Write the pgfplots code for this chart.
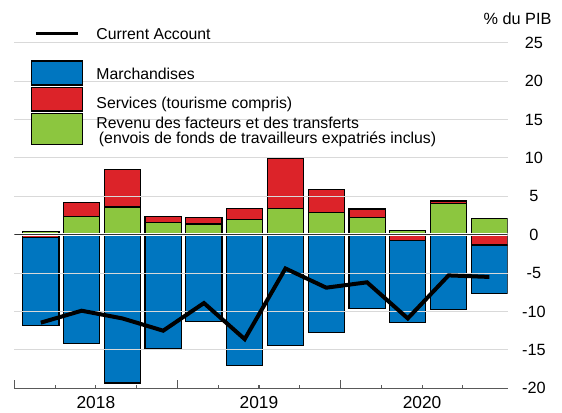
\documentclass[border=0pt]{standalone}
\usepackage{fontspec}
\setmainfont{Liberation Sans}
\usepackage{pgfplots}
\pgfplotsset{compat=1.18}
\definecolor{cablue}{HTML}{0076C0}
\definecolor{cared}{HTML}{DC2329}
\definecolor{cagreen}{HTML}{8CC63F}
\definecolor{gridgray}{HTML}{D9D9D9}
\newcommand\tickfont{\fontsize{12.2}{14}\selectfont}
\newcommand\yearfont{\fontsize{13}{15}\selectfont}
\newcommand\legfont{\fontsize{11.85}{14}\selectfont}

\pgfplotsset{
  base/.style={
    scale only axis, width=370pt, height=259.2pt,
    at={(10.76pt,17.78pt)}, anchor=south west,
    xmin=0.35, xmax=12.45, ymin=-20, ymax=25,
  },
  bars/.style={base, hide axis, ybar stacked, bar width=0.887},
  seg/.style={draw=black, line width=0.9pt, fill=#1},
}

\begin{document}
\begin{tikzpicture}
\useasboundingbox (0pt,0pt) rectangle (421.5pt,309pt);

% positive parts: factor income and transfers, then services
\begin{axis}[bars]
  \addplot[seg=cagreen] coordinates {
    (1,0.4) (2,2.33) (3,3.6) (4,1.6) (5,1.4) (6,1.95)
    (7,3.4) (8,2.9) (9,2.25) (10,0.55) (11,4.1) (12,2.1)};
  \addplot[seg=cared] coordinates {
    (1,0) (2,1.9) (3,4.85) (4,0.75) (5,0.85) (6,1.5)
    (7,6.5) (8,3.0) (9,1.1) (10,0) (11,0.3) (12,0)};
\end{axis}

% negative parts: services, then goods
\begin{axis}[bars]
  \addplot[seg=cared] coordinates {
    (1,-0.4) (2,0) (3,0) (4,0) (5,0) (6,0)
    (7,0) (8,0) (9,0) (10,-0.75) (11,0) (12,-1.35)};
  \addplot[seg=cablue] coordinates {
    (1,-11.45) (2,-14.2) (3,-19.3) (4,-14.8) (5,-11.3) (6,-17.0)
    (7,-14.4) (8,-12.75) (9,-9.6) (10,-10.65) (11,-9.75) (12,-6.3)};
\end{axis}

% grid, axis, current account
\begin{axis}[base,
  axis x line*=bottom, axis y line*=right,
  x axis line style={draw=black!65, line width=0.8pt, -},
  y axis line style={draw=none},
  ymajorgrids, grid style={gridgray, line width=0.6pt},
  ytick={-20,-15,...,25},
  yticklabels={-20,-15,-10,-5,0,5,10,15,20,25},
  ytick style={draw=none},
  yticklabel style={anchor=center, xshift=19.7pt, font=\tickfont},
  xtick={0.35,1.35,2.35,3.35,4.35,5.35,6.35,7.35,8.35,9.35,10.35,11.35},
  xticklabels={,,2018,,,,2019,,,,2020,},
  xticklabel style={anchor=center, yshift=-10.6pt, font=\yearfont},
  tick align=inside,
  xtick style={draw=black!65, line width=0.8pt},
  major tick length=2.6pt,
  extra x ticks={0.35,4.35,8.35},
  extra x tick labels={},
  extra x tick style={major tick length=6.2pt},
  ]
  \draw[white, line width=2.2pt] (axis cs:0.35,0) -- (axis cs:12.45,0);
  \draw[black!80, line width=0.9pt] (axis cs:0.35,0) -- (axis cs:12.45,0);
  \addplot[black, line width=3pt, mark=none] coordinates {
    (1,-11.45) (2,-9.9) (3,-10.9) (4,-12.5) (5,-8.9) (6,-13.6)
    (7,-4.4) (8,-6.9) (9,-6.2) (10,-10.9) (11,-5.3) (12,-5.5)};
\end{axis}

% legend and unit, placed in pixel units from the top left
\begin{scope}[x=0.75pt, y=-0.75pt, shift={(0pt,309pt)}]
  \node[font=\tickfont, inner sep=0pt] at (517.5,18.5) {\% du PIB};
  \draw[line width=2.5pt] (35.9,33.5) -- (78.2,33.5);
  \node[font=\legfont, anchor=base west, inner sep=0pt] at (96.2,39.6) {Current Account};
  \filldraw[fill=cablue, draw=black, line width=0.8pt] (31.6,61) rectangle (82.5,85);
  \node[font=\legfont, anchor=base west, inner sep=0pt] at (96.2,79.6) {Marchandises};
  \filldraw[fill=cared, draw=black, line width=0.8pt] (31.6,87.3) rectangle (82.5,111);
  \node[font=\legfont, anchor=base west, inner sep=0pt] at (96.2,108) {Services (tourisme compris)};
  \filldraw[fill=cagreen, draw=black, line width=0.8pt] (31.6,113.3) rectangle (82.5,144.3);
  \node[font=\legfont, anchor=base west, inner sep=0pt] at (96.2,128) {Revenu des facteurs et des transferts};
  \node[font=\legfont, anchor=base west, inner sep=0pt] at (98.7,143) {(envois de fonds de travailleurs expatriés inclus)};
\end{scope}
\end{tikzpicture}
\end{document}
